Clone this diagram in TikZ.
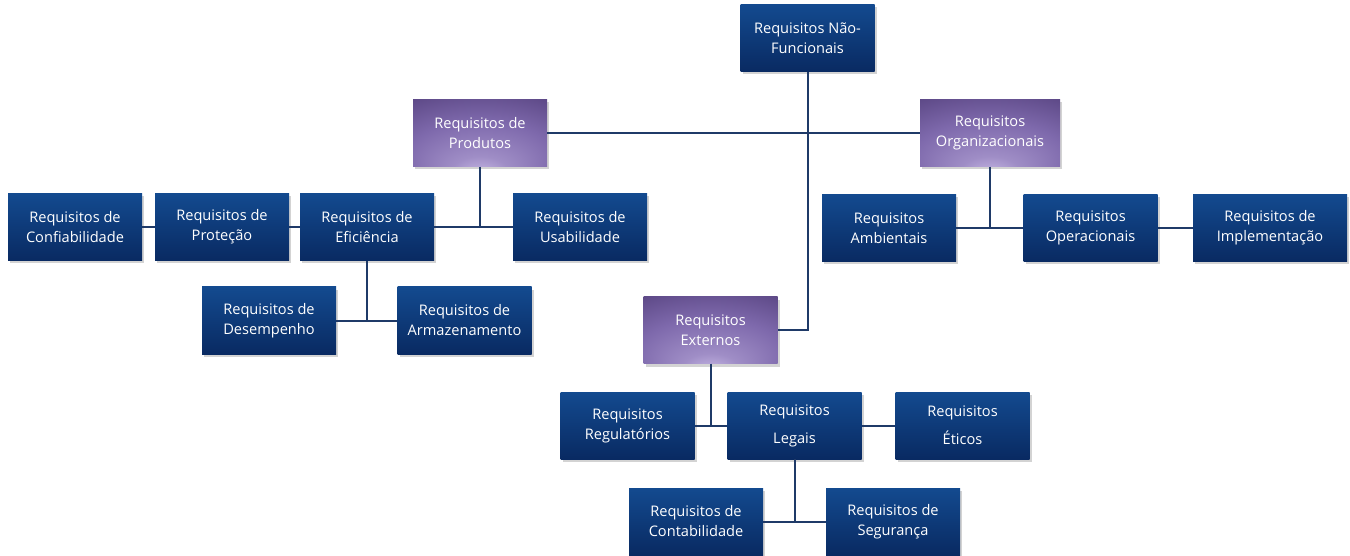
\documentclass[tikz,border=0pt]{standalone}
\usepackage{fontspec}
\setmainfont{Open Sans}
\usetikzlibrary{shadows}
\definecolor{bltop}{HTML}{134A8F}
\definecolor{blbot}{HTML}{092A62}
\definecolor{pl}{HTML}{C8BAE6}
\definecolor{pm}{HTML}{7E69AC}
\definecolor{pd}{HTML}{4F3B77}
\definecolor{conn}{HTML}{1F3A68}
\pgfdeclareradialshading{purp}{\pgfpoint{0bp}{-32bp}}{color(0bp)=(pl); color(10bp)=(pm!55!pl); color(28bp)=(pm); color(52bp)=(pd); color(70bp)=(pd)}
\tikzset{
  box/.style={rectangle, minimum width=134pt, minimum height=67pt, inner sep=2pt,
    align=center, text=white, font=\fontsize{14.6}{20}\selectfont,
    drop shadow={opacity=0.35, shadow xshift=2pt, shadow yshift=-3pt}},
  bluebox/.style={box, top color=bltop, bottom color=blbot},
  purpbox/.style={box, shading=purp},
  link/.style={draw=conn, line width=2pt}
}
\begin{document}
\begin{tikzpicture}[x=1pt,y=-1pt]
\useasboundingbox (0,0) rectangle (1350,556);
% nodes
\node[bluebox] (nf) at (807.5,38) {Requisitos Não-\\Funcionais};
\node[purpbox] (prod) at (480,133) {Requisitos de\\Produtos};
\node[purpbox, minimum width=140pt] (org) at (990,133) {Requisitos\\Organizacionais};
\node[purpbox] (ext) at (710.5,330) {Requisitos\\Externos};
\node[bluebox] (conf) at (75,227) {Requisitos de\\Confiabilidade};
\node[bluebox] (prot) at (222,227) {Requisitos de\\Proteção};
\node[bluebox] (efic) at (367,227) {Requisitos de\\Eficiência};
\node[bluebox] (usab) at (580,227) {Requisitos de\\Usabilidade};
\node[bluebox] (des) at (269,320.5) {Requisitos de\\Desempenho};
\node[bluebox] (arm) at (464.5,320.5) {Requisitos de\\Armazenamento};
\node[bluebox] (amb) at (889,228) {Requisitos\\Ambientais};
\node[bluebox] (oper) at (1090.5,228) {Requisitos\\Operacionais};
\node[bluebox, minimum width=154pt] (impl) at (1270,228) {Requisitos de\\Implementação};
\node[bluebox] (reg) at (627.5,425.5) {Requisitos\\Regulatórios};
\node[bluebox] (leg) at (794.5,425.5) {Requisitos\\[8pt]Legais};
\node[bluebox] (eti) at (962.5,425.5) {Requisitos\\[8pt]Éticos};
\node[bluebox] (cont) at (696,521.5) {Requisitos de\\Contabilidade};
\node[bluebox] (seg) at (893,521.5) {Requisitos de\\Segurança};
% connectors
\draw[link] (nf.south) |- (ext.east);
\draw[link] (prod.east) -- (org.west);
\draw[link] (conf.east) -- (prot.west);
\draw[link] (prot.east) -- (efic.west);
\draw[link] (efic.east) -- (usab.west);
\draw[link] (prod.south) -- (prod.south |- usab.west);
\draw[link] (efic.south) -- (efic.south |- des.east);
\draw[link] (des.east) -- (arm.west);
\draw[link] (amb.east) -- (oper.west);
\draw[link] (oper.east) -- (impl.west);
\draw[link] (org.south) -- (org.south |- amb.east);
\draw[link] (ext.south) -- (ext.south |- reg.east);
\draw[link] (reg.east) -- (leg.west);
\draw[link] (leg.east) -- (eti.west);
\draw[link] (leg.south) -- (leg.south |- cont.east);
\draw[link] (cont.east) -- (seg.west);
\end{tikzpicture}
\end{document}
